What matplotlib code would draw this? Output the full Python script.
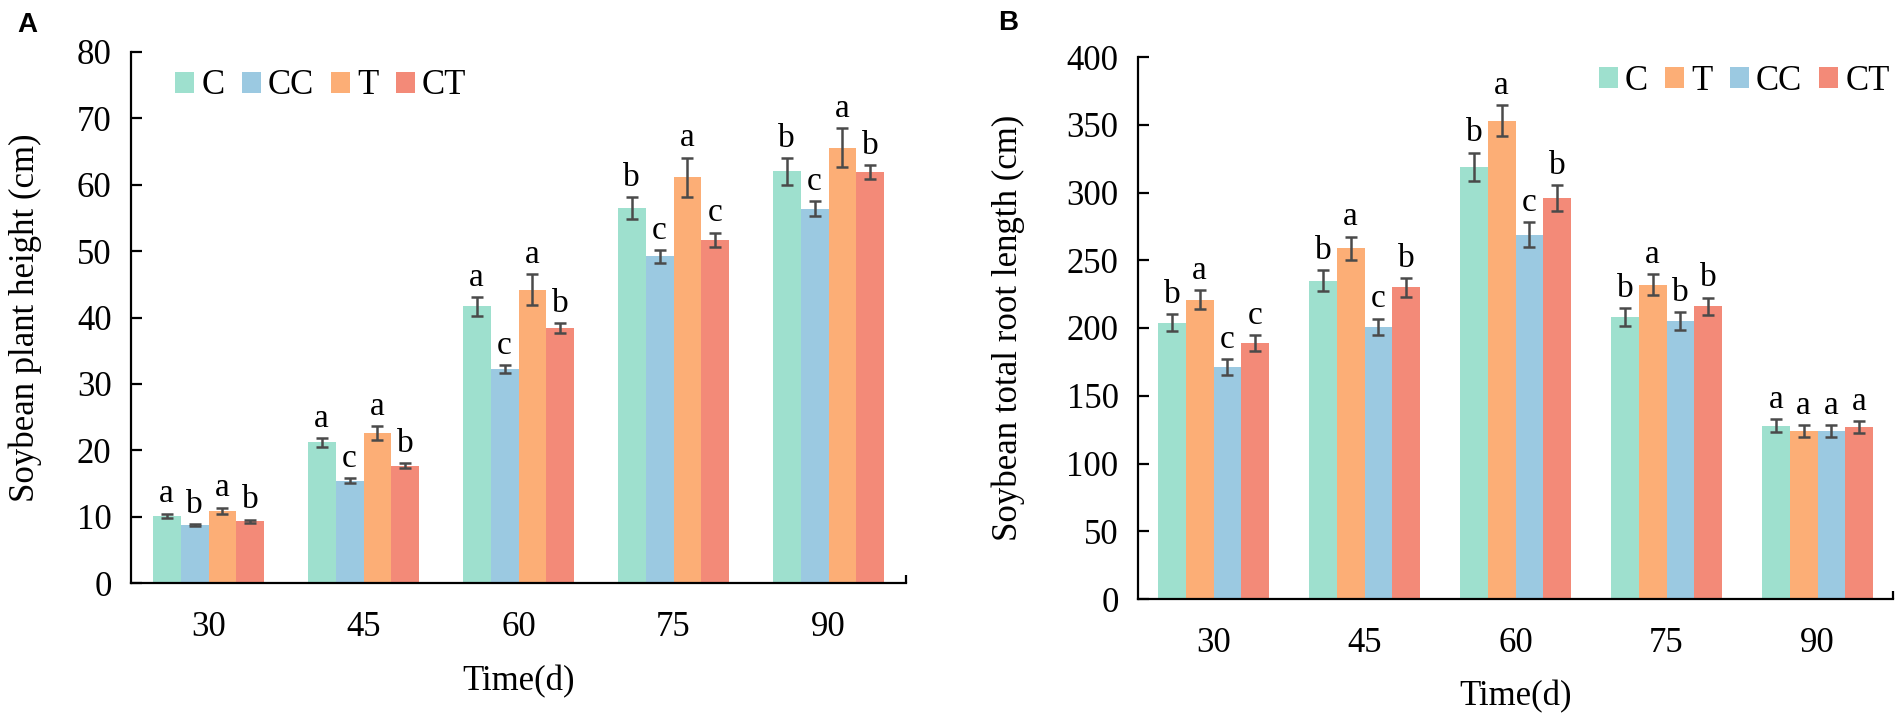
import matplotlib
matplotlib.use("Agg")
import matplotlib.pyplot as plt
import numpy as np

plt.rcParams['font.family'] = ['Liberation Serif', 'DejaVu Serif']

days = ["30", "45", "60", "75", "90"]

# Panel A: soybean plant height (cm); order C, CC, T, CT
a_groups = ["C", "CC", "T", "CT"]
a_vals = {
    "C":  [10.1, 21.2, 41.7, 56.5, 62.0],
    "CC": [8.7, 15.4, 32.2, 49.2, 56.4],
    "T":  [10.9, 22.6, 44.2, 61.1, 65.6],
    "CT": [9.3, 17.7, 38.4, 51.7, 61.9],
}
a_err = {
    "C":  [0.35, 0.65, 1.4, 1.7, 2.0],
    "CC": [0.15, 0.35, 0.6, 1.0, 1.1],
    "T":  [0.45, 1.1, 2.3, 3.0, 3.0],
    "CT": [0.25, 0.4, 0.8, 1.1, 1.1],
}
a_letters = {
    "C":  ["a", "a", "a", "b", "b"],
    "CC": ["b", "c", "c", "c", "c"],
    "T":  ["a", "a", "a", "a", "a"],
    "CT": ["b", "b", "b", "c", "b"],
}

# Panel B: soybean total root length (cm); order C, T, CC, CT
b_groups = ["C", "T", "CC", "CT"]
b_vals = {
    "C":  [204, 235, 319, 208, 128],
    "T":  [221, 259, 353, 232, 124],
    "CC": [171, 201, 269, 205, 124],
    "CT": [189, 230, 296, 216, 127],
}
b_err = {
    "C":  [6.5, 7.5, 10.5, 6.5, 4.5],
    "T":  [7.0, 8.5, 11.5, 8.0, 4.5],
    "CC": [6.0, 6.0, 9.0, 6.5, 4.5],
    "CT": [6.0, 7.0, 9.5, 6.5, 4.5],
}
b_letters = {
    "C":  ["b", "b", "b", "b", "a"],
    "T":  ["a", "a", "a", "a", "a"],
    "CC": ["c", "c", "c", "b", "a"],
    "CT": ["c", "b", "b", "b", "a"],
}

colors = {"C": "#9EE0CE", "CC": "#9BC9E1", "T": "#FCAE76", "CT": "#F38A78"}

W, H = 1901, 719
fig = plt.figure(figsize=(W / 100, H / 100), dpi=100)

def panel(rect, groups, vals, errs, letters, ylim, ystep, ylabel,
          group_frac, leg_xy, ylab_x, xlab_y):
    ax = fig.add_axes(rect)
    x = np.arange(len(days))
    bw = group_frac / len(groups)
    handles = []
    for i, g in enumerate(groups):
        pos = x - group_frac / 2 + bw * (i + 0.5)
        b = ax.bar(pos, vals[g], width=bw, color=colors[g], label=g, zorder=2)
        handles.append(b)
        ax.errorbar(pos, vals[g], yerr=errs[g], fmt="none", ecolor="#4a4a4a",
                    elinewidth=1.8, capsize=4, capthick=1.8, zorder=3)
        for p, v, e, t in zip(pos, vals[g], errs[g], letters[g]):
            ax.annotate(t, (p, v + e), xytext=(0, 3), textcoords="offset points",
                        ha="center", va="bottom", fontsize=24, color="black")
    ax.set_xlim(-0.5, len(days) - 0.5)
    ax.set_ylim(*ylim)
    ax.set_yticks(np.arange(ylim[0], ylim[1] + 0.1, ystep))
    ax.set_xticks(x)
    ax.set_xticklabels(days)
    ax.set_xticks([len(days) - 0.5], minor=True)
    for s in ["top", "right"]:
        ax.spines[s].set_visible(False)
    for s in ["left", "bottom"]:
        ax.spines[s].set_linewidth(1.6)
        ax.spines[s].set_color("black")
    ax.tick_params(axis="y", direction="in", length=8, width=1.6, labelsize=25, pad=14)
    ax.tick_params(axis="x", which="major", direction="in", length=6, width=1.6,
                   labelsize=25, pad=20)
    ax.tick_params(axis="x", which="minor", direction="in", length=6, width=1.6)
    ax.set_xlabel("Time(d)", fontsize=25)
    ax.set_ylabel(ylabel, fontsize=25)
    ax.xaxis.set_label_coords(0.5, xlab_y)
    ax.yaxis.set_label_coords(ylab_x, 0.5)
    ax.legend(handles=handles, labels=groups, loc="center left",
              bbox_to_anchor=leg_xy, ncol=4, frameon=False, fontsize=25,
              handlelength=0.55, handleheight=0.55, handletextpad=0.2,
              columnspacing=0.5, borderpad=0, borderaxespad=0)
    return ax

# Panel A geometry (pixels): axis x 131..906, y 52..583
axA = panel([131 / W, 1 - 583 / H, 775 / W, 531 / H], a_groups, a_vals, a_err,
            a_letters, (0, 80), 10, "Soybean plant height (cm)", 0.72,
            (0.057, 0.936), -0.115, -0.154)
# Panel B geometry: axis x 1138..1893, y 57..599
axB = panel([1138 / W, 1 - 599 / H, 755 / W, 542 / H], b_groups, b_vals, b_err,
            b_letters, (0, 400), 50, "Soybean total root length (cm)", 0.735,
            (0.61, 0.955), -0.150, -0.149)

fig.text(17 / W, 1 - 12 / H, "A", fontsize=20, fontweight="bold",
         family=["Liberation Sans", "DejaVu Sans"], ha="left", va="top")
fig.text(998 / W, 1 - 10 / H, "B", fontsize=20, fontweight="bold",
         family=["Liberation Sans", "DejaVu Sans"], ha="left", va="top")

fig.savefig("out.png", dpi=100)
